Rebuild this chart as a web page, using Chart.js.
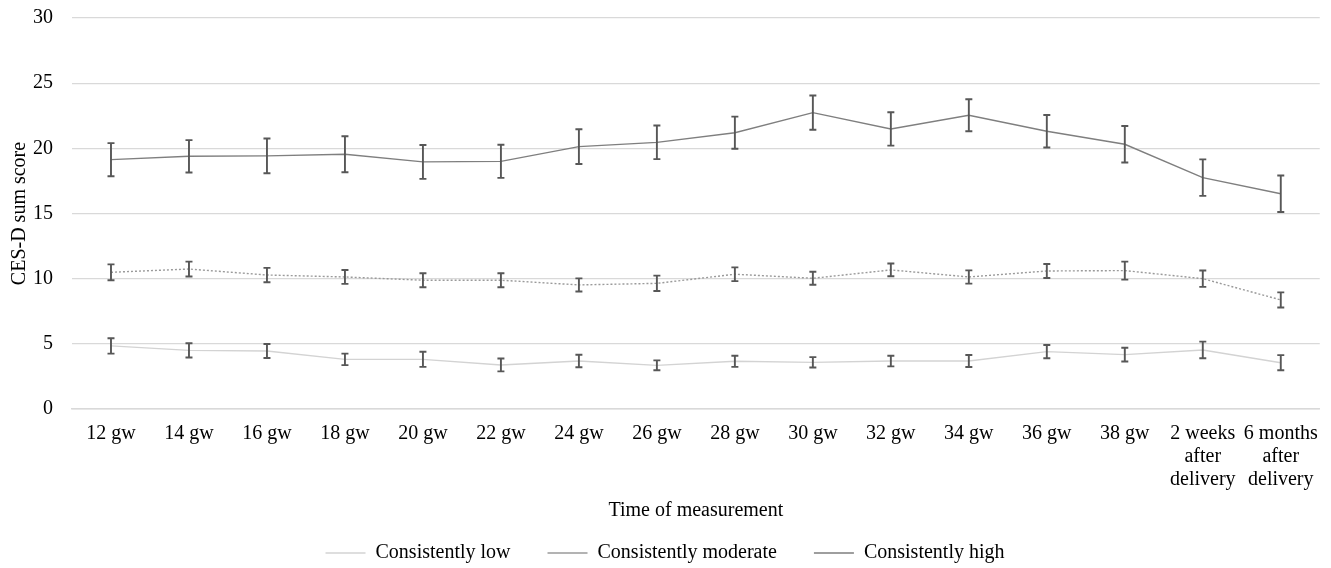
<!DOCTYPE html>
<html lang="en">
<head>
    <meta charset="UTF-8">
    <title>CES-D sum score over time</title>
    <style>
        html, body { margin: 0; padding: 0; background: #fff; }
        #wrap { width: 1331px; height: 568px; position: relative; }
    </style>
</head>
<body>
<div id="wrap"><canvas id="cesdChart"></canvas></div>

<script src="https://cdn.jsdelivr.net/npm/chart.js"></script>
<script>
const categories = ['12 gw', '14 gw', '16 gw', '18 gw', '20 gw', '22 gw', '24 gw', '26 gw',
    '28 gw', '30 gw', '32 gw', '34 gw', '36 gw', '38 gw',
    ['2 weeks', 'after', 'delivery'], ['6 months', 'after', 'delivery']];

const seriesNames = ['Consistently low', 'Consistently moderate', 'Consistently high'];

// means
const lowMean = [4.84, 4.50, 4.45, 3.81, 3.81, 3.38, 3.68, 3.35, 3.66, 3.58, 3.68, 3.68, 4.40, 4.17, 4.53, 3.55];
const modMean = [10.49, 10.74, 10.28, 10.13, 9.88, 9.88, 9.52, 9.64, 10.34, 10.03, 10.67, 10.13, 10.59, 10.62, 10.00, 8.37];
const highMean = [19.13, 19.39, 19.42, 19.55, 18.96, 19.00, 20.13, 20.46, 21.20, 22.74, 21.49, 22.54, 21.31, 20.31, 17.75, 16.52];

// error bar half widths
const lowErr = [0.59, 0.55, 0.54, 0.44, 0.58, 0.49, 0.48, 0.38, 0.43, 0.40, 0.41, 0.46, 0.51, 0.53, 0.64, 0.58];
const modErr = [0.61, 0.57, 0.55, 0.53, 0.54, 0.54, 0.50, 0.59, 0.53, 0.50, 0.49, 0.51, 0.54, 0.69, 0.63, 0.58];
const highErr = [1.27, 1.24, 1.33, 1.38, 1.30, 1.27, 1.33, 1.29, 1.23, 1.31, 1.28, 1.23, 1.25, 1.40, 1.40, 1.40];

const yTicks = [0, 5, 10, 15, 20, 25, 30];

const FONT = "'Liberation Serif', 'Times New Roman', serif";

const errorBars = {
    id: 'errorBars',
    afterDatasetsDraw(chart) {
        const ctx = chart.ctx;
        const x = chart.scales.x;
        const y = chart.scales.y;
        ctx.save();
        ctx.strokeStyle = '#575757';
        ctx.lineWidth = 1.9;
        chart.data.datasets.forEach(ds => {
            ds.data.forEach((v, i) => {
                const e = ds.errors[i];
                const px = x.getPixelForValue(i);
                const top = y.getPixelForValue(v + e);
                const bot = y.getPixelForValue(v - e);
                ctx.beginPath();
                ctx.moveTo(px, top);
                ctx.lineTo(px, bot);
                ctx.moveTo(px - 3.5, top);
                ctx.lineTo(px + 3.5, top);
                ctx.moveTo(px - 3.5, bot);
                ctx.lineTo(px + 3.5, bot);
                ctx.stroke();
            });
        });
        ctx.restore();
    }
};

new Chart(document.getElementById('cesdChart'), {
    type: 'line',
    data: {
        labels: categories,
        datasets: [
            {
                label: seriesNames[0],
                data: lowMean,
                errors: lowErr,
                borderColor: '#d3d3d3',
                backgroundColor: 'rgba(0,0,0,0)',
                borderWidth: 1.4,
                pointRadius: 0,
                tension: 0
            },
            {
                label: seriesNames[1],
                data: modMean,
                errors: modErr,
                borderColor: '#9a9a9a',
                backgroundColor: 'rgba(0,0,0,0)',
                borderWidth: 1.4,
                borderDash: [2, 2],
                pointRadius: 0,
                tension: 0
            },
            {
                label: seriesNames[2],
                data: highMean,
                errors: highErr,
                borderColor: '#7f7f7f',
                backgroundColor: 'rgba(0,0,0,0)',
                borderWidth: 1.4,
                pointRadius: 0,
                tension: 0
            }
        ]
    },
    options: {
        responsive: true,
        maintainAspectRatio: false,
        animation: false,
        layout: { padding: { top: 18, right: 9, left: 8, bottom: -5 } },
        plugins: {
            tooltip: { enabled: false },
            legend: {
                position: 'bottom',
                labels: {
                    boxWidth: 40,
                    boxHeight: 0,
                    padding: 37,
                    color: '#000',
                    font: { family: FONT, size: 20 }
                }
            }
        },
        scales: {
            x: {
                offset: true,
                afterFit(axis) { axis.height = 97; },
                grid: { display: false, drawTicks: false },
                border: { display: true, color: '#d9d9d9', width: 1.5 },
                ticks: {
                    color: '#000',
                    padding: 13,
                    maxRotation: 0,
                    autoSkip: false,
                    font: { family: FONT, size: 20, lineHeight: 1.15 }
                },
                title: {
                    display: true,
                    text: 'Time of measurement',
                    color: '#000',
                    padding: { top: 0, bottom: -17 },
                    font: { family: FONT, size: 20 }
                }
            },
            y: {
                min: 0,
                max: 30,
                afterFit(axis) {
                    axis.width = 64;
                    axis.paddingTop = 0;
                    axis.paddingBottom = 0;
                },
                afterBuildTicks(axis) {
                    axis.ticks = yTicks.map(v => ({ value: v }));
                },
                grid: { color: '#d9d9d9', lineWidth: 1.3, drawTicks: false },
                border: { display: false },
                ticks: {
                    color: '#000',
                    padding: 19,
                    font: { family: FONT, size: 20 }
                },
                title: {
                    display: true,
                    text: 'CES-D sum score',
                    color: '#000',
                    padding: { top: 0, bottom: 0 },
                    font: { family: FONT, size: 20 }
                }
            }
        }
    },
    plugins: [errorBars]
});
</script>
</body>
</html>
